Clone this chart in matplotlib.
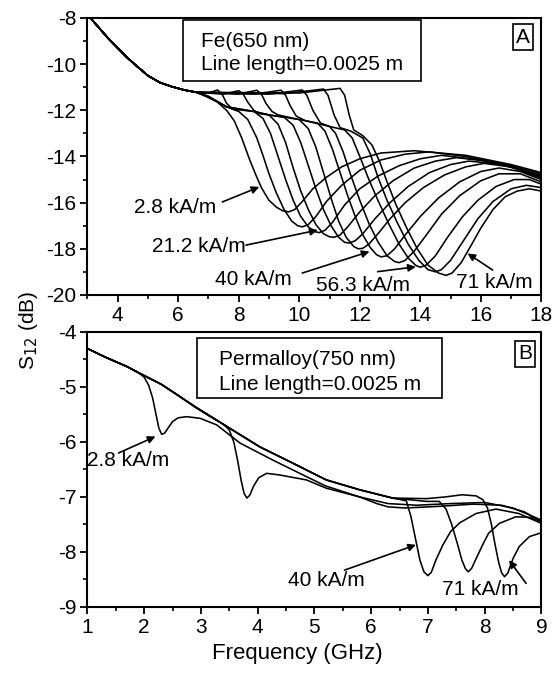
import matplotlib.pyplot as plt
from matplotlib.patches import Rectangle
from matplotlib.ticker import MultipleLocator

plt.rcParams['font.family'] = ['Liberation Sans', 'DejaVu Sans']
plt.rcParams['axes.unicode_minus'] = False
plt.rcParams['font.size'] = 15

# ---- panel A: Fe(650 nm), common low-frequency part of all curves
fe_base_f = [3.1, 3.4, 3.7, 4.0, 4.3, 4.6, 5.0, 5.4, 5.8, 6.2, 6.6]
fe_base_s = [-8.0, -8.45, -8.9, -9.3, -9.7, -10.05, -10.5, -10.8, -10.98, -11.12, -11.22]

# rest of each curve (2.8 kA/m ... 71 kA/m)
fe_curves_f = [
    [7.0, 7.3, 7.6, 7.85, 8.1, 8.35, 8.55, 8.75, 9.0, 9.25, 9.45, 9.65, 9.85, 10.1, 10.45, 10.9, 11.4, 12.0, 12.7, 13.8, 15.5, 17.0, 18.0],
    [7.0, 7.6, 8.0, 8.3, 8.6, 8.8, 9.0, 9.25, 9.5, 9.75, 9.95, 10.1, 10.3, 10.55, 10.9, 11.4, 12.0, 12.7, 13.5, 14.3, 15.5, 17.0, 18.0],
    [7.0, 7.6, 8.5, 8.8, 9.05, 9.3, 9.55, 9.8, 10.05, 10.3, 10.5, 10.65, 10.85, 11.1, 11.5, 12.0, 12.6, 13.3, 14.0, 14.7, 16.0, 18.0],
    [7.0, 7.6, 8.5, 9.0, 9.3, 9.55, 9.8, 10.05, 10.3, 10.55, 10.8, 11.0, 11.15, 11.35, 11.6, 12.0, 12.5, 13.1, 13.8, 14.5, 15.2, 16.5, 18.0],
    [7.0, 7.3, 7.45, 7.6, 7.8, 8.5, 9.0, 9.5, 9.8, 10.05, 10.3, 10.55, 10.8, 11.05, 11.3, 11.5, 11.65, 11.85, 12.1, 12.5, 13.0, 13.6, 14.3, 15.0, 15.6, 16.8, 18.0],
    [7.5, 8.0, 8.15, 8.3, 8.5, 8.7, 9.0, 10.0, 10.3, 10.55, 10.8, 11.05, 11.3, 11.55, 11.8, 11.95, 12.1, 12.3, 12.6, 13.0, 13.5, 14.1, 14.8, 15.5, 16.1, 17.0, 18.0],
    [8.0, 8.6, 8.75, 8.9, 9.1, 9.3, 10.0, 10.6, 10.85, 11.1, 11.35, 11.6, 11.85, 12.1, 12.35, 12.55, 12.7, 12.9, 13.15, 13.5, 14.0, 14.6, 15.3, 16.0, 16.6, 17.3, 18.0],
    [8.5, 9.4, 9.55, 9.7, 9.9, 10.2, 11.0, 11.2, 11.45, 11.7, 12.0, 12.3, 12.6, 12.9, 13.15, 13.3, 13.5, 13.8, 14.2, 14.7, 15.3, 16.0, 16.6, 17.3, 18.0],
    [9.0, 10.1, 10.25, 10.45, 10.7, 11.0, 11.5, 11.75, 12.0, 12.3, 12.6, 12.95, 13.3, 13.6, 13.85, 14.0, 14.2, 14.5, 14.9, 15.4, 15.9, 16.5, 17.1, 17.6, 18.0],
    [9.5, 10.8, 10.95, 11.15, 11.35, 11.7, 12.1, 12.35, 12.6, 12.9, 13.25, 13.6, 13.95, 14.25, 14.5, 14.7, 15.0, 15.4, 15.9, 16.4, 17.0, 17.5, 18.0],
    [10.0, 11.35, 11.5, 11.65, 11.8, 12.1, 12.4, 12.65, 12.9, 13.2, 13.55, 13.9, 14.25, 14.6, 14.85, 15.05, 15.35, 15.7, 16.0, 16.4, 16.8, 17.2, 17.6, 18.0],
]
fe_curves_s = [
    [-11.45, -11.65, -12.0, -12.45, -13.2, -14.1, -14.75, -15.35, -15.9, -16.2, -16.35, -16.4, -16.3, -15.95, -15.4, -14.9, -14.45, -14.1, -13.85, -13.75, -13.95, -14.35, -14.7],
    [-11.4, -11.85, -12.05, -12.4, -13.2, -13.95, -14.75, -15.6, -16.3, -16.8, -17.0, -17.05, -16.95, -16.6, -15.95, -15.25, -14.6, -14.15, -13.9, -13.8, -14.0, -14.4, -14.75],
    [-11.4, -11.85, -12.05, -12.35, -13.0, -14.0, -15.0, -15.9, -16.6, -17.05, -17.25, -17.3, -17.2, -16.85, -16.1, -15.4, -14.85, -14.4, -14.1, -13.95, -14.15, -14.8],
    [-11.4, -11.85, -12.05, -12.2, -12.6, -13.4, -14.5, -15.5, -16.3, -16.95, -17.35, -17.48, -17.5, -17.4, -17.05, -16.4, -15.7, -15.05, -14.5, -14.2, -14.05, -14.25, -14.85],
    [-11.25, -11.12, -11.3, -11.7, -11.95, -12.05, -12.2, -12.3, -12.65, -13.4, -14.4, -15.4, -16.3, -17.0, -17.5, -17.72, -17.75, -17.65, -17.35, -16.7, -16.0, -15.3, -14.7, -14.35, -14.2, -14.35, -14.9],
    [-11.3, -11.15, -11.3, -11.65, -12.0, -12.15, -12.2, -12.4, -12.8, -13.6, -14.7, -15.8, -16.8, -17.5, -17.9, -18.0, -17.98, -17.8, -17.35, -16.7, -16.0, -15.35, -14.8, -14.45, -14.3, -14.45, -14.95],
    [-11.3, -11.13, -11.3, -11.7, -12.05, -12.2, -12.4, -12.55, -12.9, -13.7, -14.7, -15.7, -16.6, -17.4, -17.95, -18.25, -18.35, -18.3, -18.0, -17.4, -16.6, -15.8, -15.1, -14.65, -14.5, -14.65, -15.0],
    [-11.3, -11.13, -11.35, -11.8, -12.25, -12.45, -12.7, -13.0, -13.8, -14.8, -15.9, -16.9, -17.7, -18.3, -18.55, -18.6, -18.5, -18.1, -17.4, -16.5, -15.7, -15.05, -14.75, -14.75, -15.1],
    [-11.3, -11.12, -11.35, -12.0, -12.55, -12.7, -12.85, -13.2, -14.0, -15.0, -15.9, -16.9, -17.8, -18.4, -18.72, -18.8, -18.7, -18.3, -17.5, -16.6, -15.9, -15.3, -15.0, -15.0, -15.2],
    [-11.28, -11.08, -11.35, -12.2, -12.75, -12.9, -13.2, -13.9, -14.9, -15.9, -16.9, -17.8, -18.5, -18.9, -19.0, -18.9, -18.5, -17.7, -16.7, -15.95, -15.4, -15.25, -15.35],
    [-11.25, -11.05, -11.35, -12.2, -12.85, -13.1, -13.5, -14.2, -15.1, -16.1, -17.1, -18.0, -18.7, -19.05, -19.15, -19.05, -18.6, -17.8, -17.1, -16.3, -15.75, -15.5, -15.4, -15.5],
]

# ---- panel B: Permalloy(750 nm)
py_base_f = [1.0, 1.3, 1.7, 1.9]
py_base_s = [-4.3, -4.45, -4.63, -4.74]

py_curves_f = [
    [2.0, 2.08, 2.15, 2.21, 2.26, 2.31, 2.36, 2.42, 2.5, 2.6, 2.75, 2.99, 3.28, 3.69, 4.27, 4.86, 5.2, 5.8, 6.1, 6.3, 6.6, 7.2, 7.8, 8.3, 8.7, 9.0],
    [2.3, 2.6, 2.9, 3.2, 3.4, 3.5, 3.58, 3.65, 3.71, 3.76, 3.81, 3.86, 3.93, 4.02, 4.16, 4.39, 4.86, 5.21, 5.8, 6.3, 6.8, 7.4, 8.0, 8.5, 9.0],
    [2.3, 2.9, 3.46, 4.04, 4.63, 5.21, 5.8, 6.38, 6.62, 6.7, 6.78, 6.86, 6.93, 7.0, 7.06, 7.14, 7.26, 7.4, 7.56, 7.85, 8.2, 8.6, 9.0],
    [2.3, 2.9, 3.46, 4.04, 4.63, 5.21, 5.8, 6.38, 6.97, 7.2, 7.32, 7.42, 7.52, 7.6, 7.66, 7.71, 7.77, 7.85, 7.96, 8.07, 8.26, 8.55, 8.8, 9.0],
    [2.3, 2.9, 3.46, 4.04, 4.63, 5.21, 5.8, 6.38, 6.97, 7.3, 7.6, 7.85, 7.97, 8.05, 8.12, 8.19, 8.25, 8.3, 8.35, 8.41, 8.5, 8.61, 8.79, 9.0],
]
py_curves_s = [
    [-4.82, -4.97, -5.2, -5.5, -5.75, -5.86, -5.84, -5.75, -5.63, -5.56, -5.54, -5.57, -5.69, -6.02, -6.33, -6.63, -6.8, -7.0, -7.12, -7.18, -7.2, -7.17, -7.13, -7.15, -7.27, -7.45],
    [-4.95, -5.15, -5.37, -5.56, -5.68, -5.78, -6.0, -6.35, -6.7, -6.93, -7.02, -6.97, -6.8, -6.65, -6.57, -6.6, -6.69, -6.84, -7.0, -7.12, -7.15, -7.12, -7.1, -7.2, -7.42],
    [-4.95, -5.36, -5.72, -6.09, -6.39, -6.69, -6.87, -7.02, -7.07, -7.35, -7.75, -8.15, -8.36, -8.43, -8.37, -8.15, -7.88, -7.63, -7.47, -7.3, -7.22, -7.3, -7.48],
    [-4.95, -5.36, -5.72, -6.09, -6.39, -6.69, -6.87, -7.02, -7.08, -7.08, -7.22, -7.5, -7.85, -8.15, -8.3, -8.36, -8.3, -8.12, -7.88, -7.66, -7.48, -7.36, -7.37, -7.45],
    [-4.95, -5.36, -5.72, -6.09, -6.39, -6.69, -6.87, -7.02, -7.03, -7.0, -6.96, -6.98, -7.05, -7.2, -7.5, -7.9, -8.2, -8.38, -8.45, -8.38, -8.12, -7.9, -7.72, -7.65],
]

fig = plt.figure(figsize=(5.53, 6.73), dpi=100)
ax1 = fig.add_axes([0.158, 0.5617, 0.821, 0.4116])
ax2 = fig.add_axes([0.158, 0.0981, 0.821, 0.4086])

for f, s in zip(fe_curves_f, fe_curves_s):
    ax1.plot(fe_base_f + f, fe_base_s + s, color='black', lw=1.15)
for f, s in zip(py_curves_f, py_curves_s):
    ax2.plot(py_base_f + f, py_base_s + s, color='black', lw=1.15)

ax1.set_xlim(3, 18)
ax1.set_ylim(-20, -8)
ax1.xaxis.set_minor_locator(MultipleLocator(1))
ax1.yaxis.set_major_locator(MultipleLocator(2))
ax1.yaxis.set_minor_locator(MultipleLocator(1))
ax1.set_xticks([4, 6, 8, 10, 12, 14, 16, 18])

ax2.set_xlim(1, 9)
ax2.set_ylim(-9, -4)
ax2.xaxis.set_major_locator(MultipleLocator(1))
ax2.xaxis.set_minor_locator(MultipleLocator(0.5))
ax2.yaxis.set_major_locator(MultipleLocator(1))
ax2.yaxis.set_minor_locator(MultipleLocator(0.5))
ax2.set_xlabel('Frequency (GHz)', fontsize=16, labelpad=4, x=0.462)

for ax in (ax1, ax2):
    for sp in ax.spines.values():
        sp.set_linewidth(1.5)
    ax.tick_params(which='major', direction='out', length=5, width=1.3, pad=3)
    ax.tick_params(which='minor', direction='out', length=3, width=1.2)

fig.text(0.052, 1 - 330 / 673, 'S$_{12}$ (dB)', rotation=90, ha='center', va='center')

# text boxes
ax1.add_patch(Rectangle((0.2115, 0.7726), 0.5242, 0.2202, transform=ax1.transAxes,
                        fc='white', ec='black', lw=1.2, zorder=3))
ax1.text(0.2511, 0.895, 'Fe(650 nm)', transform=ax1.transAxes, va='baseline', zorder=4)
ax1.text(0.2511, 0.812, 'Line length=0.0025 m', transform=ax1.transAxes, va='baseline', zorder=4)
ax1.text(0.959, 0.931, 'A', transform=ax1.transAxes, ha='center', va='center', zorder=4,
         bbox=dict(boxstyle='square,pad=0.15', fc='white', ec='black', lw=1.2))

ax2.add_patch(Rectangle((0.2418, 0.76), 0.5384, 0.218, transform=ax2.transAxes,
                        fc='white', ec='black', lw=1.2, zorder=3))
ax2.text(0.29, 0.88, 'Permalloy(750 nm)', transform=ax2.transAxes, va='baseline', zorder=4)
ax2.text(0.29, 0.789, 'Line length=0.0025 m', transform=ax2.transAxes, va='baseline', zorder=4)
ax2.text(0.964, 0.92, 'B', transform=ax2.transAxes, ha='center', va='center', zorder=4,
         bbox=dict(boxstyle='square,pad=0.15', fc='white', ec='black', lw=1.2))

arrow = dict(arrowstyle='-|>', color='black', lw=1.2, mutation_scale=11, shrinkA=0, shrinkB=0)

# panel A labels: (text, text position, arrow tail, arrow tip)
fe_labels = [
    ('2.8 kA/m', (5.89, -16.23), (7.46, -15.97), (8.68, -15.32)),
    ('21.2 kA/m', (6.7, -17.92), (8.24, -17.84), (10.61, -17.19)),
    ('40 kA/m', (8.47, -19.35), (10.1, -19.05), (12.32, -18.12)),
    ('56.3 kA/m', (12.1, -19.57), (12.59, -18.99), (13.85, -18.78)),
    ('71 kA/m', (16.43, -19.44), (16.39, -18.92), (15.56, -18.2)),
]
for txt, pos, tail, tip in fe_labels:
    ax1.text(pos[0], pos[1], txt, ha='center', va='center', clip_on=False)
    ax1.annotate('', xy=tip, xytext=tail, arrowprops=arrow)

py_labels = [
    ('2.8 kA/m', (1.71, -6.33), (1.55, -6.2), (2.2, -5.9)),
    ('40 kA/m', (5.21, -8.51), (5.53, -8.33), (6.79, -7.87)),
    ('71 kA/m', (7.93, -8.69), (8.73, -8.57), (8.43, -8.15)),
]
for txt, pos, tail, tip in py_labels:
    ax2.text(pos[0], pos[1], txt, ha='center', va='center', clip_on=False)
    ax2.annotate('', xy=tip, xytext=tail, arrowprops=arrow)

fig.savefig('out.png', dpi=100)
